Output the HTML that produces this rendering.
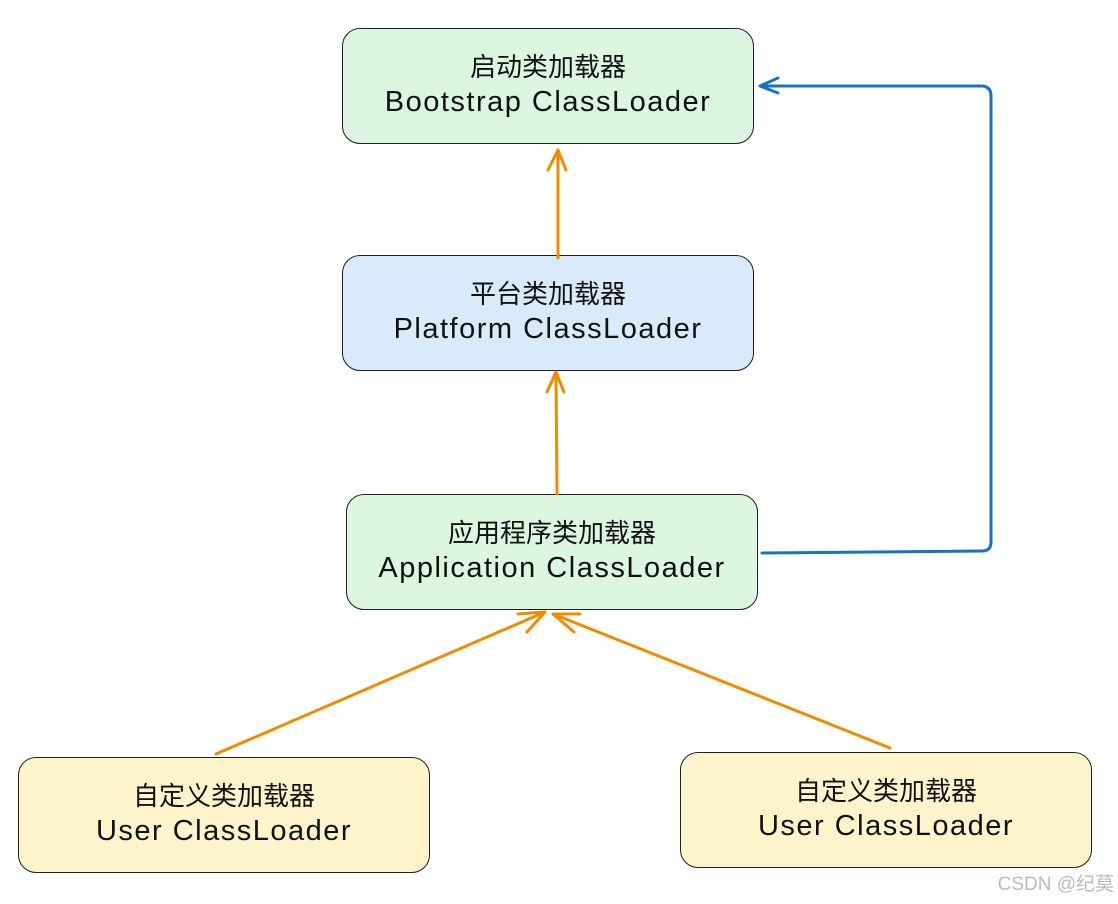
<!DOCTYPE html>
<html><head><meta charset="utf-8"><style>
body{margin:0;background:#fff;width:1118px;height:904px;overflow:hidden;position:relative;font-family:"Liberation Sans","Noto Sans CJK SC",sans-serif}
.b{position:absolute;border:1.5px solid #1e1e1e;border-radius:18px;box-sizing:border-box;text-align:center;color:#111}
.b .c{font-size:26px;line-height:30px}
.b .e{font-family:"Liberation Sans",sans-serif;font-size:29px;line-height:40px;letter-spacing:1.5px}
.g{background:#dcf6e0}.bl{background:#d9ebfb}.y{background:#fdf4cc}
.w{position:absolute;right:4px;bottom:8px;color:#bbb;font-size:19px}
</style></head><body>
<div class="b g" style="left:342px;top:28px;width:412px;height:116px;padding-top:23px"><div class="c">启动类加载器</div><div class="e">Bootstrap ClassLoader</div></div>
<div class="b bl" style="left:342px;top:255px;width:412px;height:116px;padding-top:23px"><div class="c">平台类加载器</div><div class="e">Platform ClassLoader</div></div>
<div class="b g" style="left:346px;top:494px;width:412px;height:116px;padding-top:23px"><div class="c">应用程序类加载器</div><div class="e">Application ClassLoader</div></div>
<div class="b y" style="left:18px;top:757px;width:412px;height:116px;padding-top:23px"><div class="c">自定义类加载器</div><div class="e">User ClassLoader</div></div>
<div class="b y" style="left:680px;top:752px;width:412px;height:116px;padding-top:23px"><div class="c">自定义类加载器</div><div class="e">User ClassLoader</div></div>
<svg width="1118" height="904" style="position:absolute;left:0;top:0" fill="none" stroke-width="3" stroke-linecap="round" stroke-linejoin="round">
<g stroke="#f08c00">
<path d="M558 258 L558 150 M548 170 L558 150 L566 170"/>
<path d="M557 494 L556 372 M547 392 L556 372 L564 392"/>
<path d="M216 754 L545 612 M518 614 L545 612 L527 632"/>
<path d="M890 748 L553 614 M574 632 L553 614 L580 614"/>
</g>
<g stroke="#1971c2">
<path d="M762 553 L982 551 Q991 551 991 542 L991 96 Q991 86 981 86 L760 86 M778 78 L760 86 L778 93"/>
</g>
</svg>
<div class="w">CSDN @纪莫</div>
</body></html>
